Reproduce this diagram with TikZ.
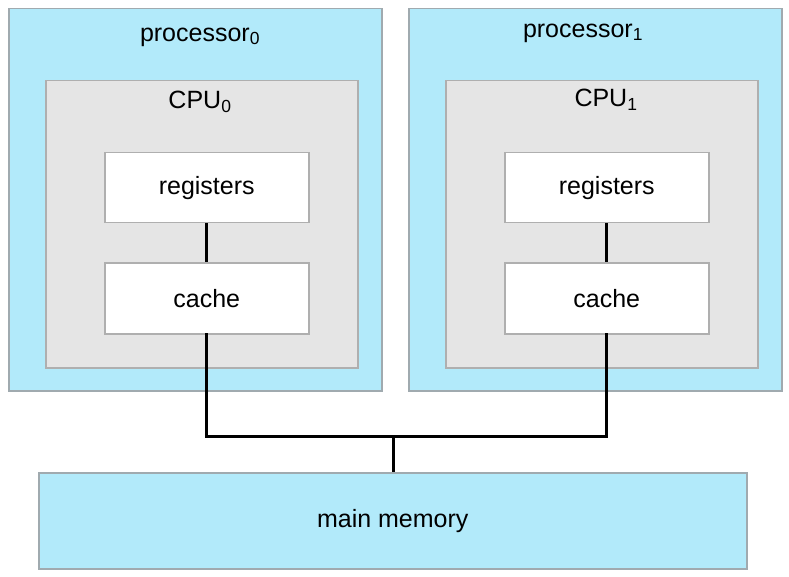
\documentclass[tikz,border=0pt]{standalone}
\usepackage{fontspec}
\setmainfont{Liberation Sans}
\begin{document}
\begin{tikzpicture}[x=1pt,y=-1pt,
  blue/.style={fill={rgb,255:red,178;green,234;blue,250},draw={rgb,255:red,160;green,170;blue,175},line width=1.5pt},
  gray/.style={fill={rgb,255:red,229;green,229;blue,229},draw={rgb,255:red,175;green,175;blue,175},line width=1.5pt},
  white/.style={fill=white,draw={rgb,255:red,175;green,175;blue,175},line width=1.5pt},
  lbl/.style={font=\fontsize{25}{30}\selectfont},
  wire/.style={line width=3pt,black}]
\useasboundingbox (0,0) rectangle (789,577);
\node[blue,minimum width=373,minimum height=382,anchor=north west] (p0) at (8,8) {};
\node[blue,minimum width=373,minimum height=382,anchor=north west] (p1) at (408,8) {};
\node[gray,minimum width=312,minimum height=287,anchor=north west] (c0) at (45,80) {};
\node[gray,minimum width=312,minimum height=287,anchor=north west] (c1) at (445,80) {};
\node[white,lbl,minimum width=204,minimum height=70,anchor=north west] (r0) at (104,152) {registers};
\node[white,lbl,minimum width=204,minimum height=71,anchor=north west] (k0) at (104,262) {cache};
\node[white,lbl,minimum width=204,minimum height=70,anchor=north west] (r1) at (504,152) {registers};
\node[white,lbl,minimum width=204,minimum height=71,anchor=north west] (k1) at (504,262) {cache};
\node[blue,lbl,minimum width=708,minimum height=96,anchor=north west] (mm) at (38,472) {main memory};
\node[lbl] (t0) at (200,37) {processor\textsubscript{0}};
\node[lbl] (t1) at (583,33) {processor\textsubscript{1}};
\node[lbl] (u0) at (200,102) {CPU\textsubscript{0}};
\node[lbl] (u1) at (606,100) {CPU\textsubscript{1}};
\coordinate (j) at (393,436);
\draw[wire] (r0.south) -- (k0.north);
\draw[wire] (r1.south) -- (k1.north);
\draw[wire] ([yshift=1.5pt]k0.south) |- (j);
\draw[wire] ([yshift=1.5pt]k1.south) |- (j);
\draw[wire] (j) -- (mm.north -| j);
\end{tikzpicture}
\end{document}
